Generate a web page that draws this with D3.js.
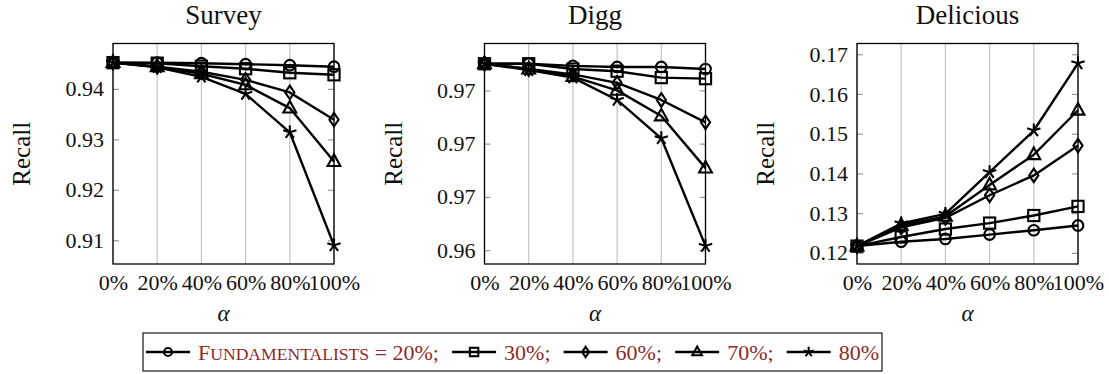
<!DOCTYPE html>
<html>
<head>
<meta charset="utf-8">
<script src="https://cdn.jsdelivr.net/npm/d3@7"></script>
<style>
    body { margin: 0; background: #fff; }
    svg text { font-family: "Liberation Serif", "Times New Roman", "DejaVu Serif", serif; }
</style>
</head>
<body>
<div id="chart-area"></div>
<script>
// x axis (alpha)
var alphaValues = [0, 20, 40, 60, 80, 100];
var alphaLabels = ["0%", "20%", "40%", "60%", "80%", "100%"];

// fundamentalist share for each series
var seriesNames = ["20%", "30%", "60%", "70%", "80%"];

// Survey
var survey20 = [0.9452, 0.9452, 0.9451, 0.9449, 0.9447, 0.9444];
var survey30 = [0.9452, 0.9451, 0.9445, 0.9440, 0.9432, 0.9428];
var survey60 = [0.9452, 0.9444, 0.9434, 0.9418, 0.9393, 0.9339];
var survey70 = [0.9452, 0.9444, 0.9430, 0.9408, 0.9362, 0.9256];
var survey80 = [0.9452, 0.9443, 0.9424, 0.9390, 0.9314, 0.9090];
var surveyTicks = [0.91, 0.92, 0.93, 0.94];
var surveyTickLabels = ["0.91", "0.92", "0.93", "0.94"];
var surveyLimits = [0.9053, 0.9490];

// Digg
var digg20 = [0.9775, 0.9775, 0.9773, 0.9772, 0.9772, 0.9770];
var digg30 = [0.9775, 0.9775, 0.9770, 0.9768, 0.9762, 0.9761];
var digg60 = [0.9775, 0.9770, 0.9765, 0.9757, 0.9741, 0.9720];
var digg70 = [0.9775, 0.9770, 0.9763, 0.9750, 0.9726, 0.9677];
var digg80 = [0.9775, 0.9769, 0.9762, 0.9741, 0.9705, 0.9604];
var diggTicks = [0.960, 0.965, 0.970, 0.975];
var diggTickLabels = ["0.96", "0.97", "0.97", "0.97"];
var diggLimits = [0.9587, 0.9794];

// Delicious
var delicious20 = [0.1217, 0.1228, 0.1235, 0.1246, 0.1257, 0.1269];
var delicious30 = [0.1217, 0.1240, 0.1260, 0.1275, 0.1294, 0.1317];
var delicious60 = [0.1217, 0.1264, 0.1288, 0.1345, 0.1395, 0.1470];
var delicious70 = [0.1217, 0.1269, 0.1292, 0.1371, 0.1447, 0.1559];
var delicious80 = [0.1217, 0.1274, 0.1298, 0.1403, 0.1508, 0.1677];
var deliciousTicks = [0.12, 0.13, 0.14, 0.15, 0.16, 0.17];
var deliciousTickLabels = ["0.12", "0.13", "0.14", "0.15", "0.16", "0.17"];
var deliciousLimits = [0.1172, 0.1727];

var panels = [
    { title: "Survey", left: 113, series: [survey20, survey30, survey60, survey70, survey80],
      ticks: surveyTicks, labels: surveyTickLabels, limits: surveyLimits },
    { title: "Digg", left: 484.5, series: [digg20, digg30, digg60, digg70, digg80],
      ticks: diggTicks, labels: diggTickLabels, limits: diggLimits },
    { title: "Delicious", left: 857, series: [delicious20, delicious30, delicious60, delicious70, delicious80],
      ticks: deliciousTicks, labels: deliciousTickLabels, limits: deliciousLimits }
];

var markerTypes = ["circle", "square", "diamond", "triangle", "star"];

var plotW = 221;
var plotTop = 43.5, plotBottom = 264;
var serif = "Liberation Serif, Times New Roman, DejaVu Serif, serif";

var svg = d3.select("#chart-area")
    .append("svg")
    .attr("width", 1109)
    .attr("height", 374);

function drawMarker(g, type, cx, cy, s) {
    var m = g.append("g")
        .attr("transform", `translate(${cx}, ${cy})`)
        .attr("fill", "none")
        .attr("stroke", "#000")
        .attr("stroke-width", 2.1);
    if (type === "circle") {
        m.append("circle").attr("r", 5.3 * s);
    } else if (type === "square") {
        m.append("rect")
            .attr("x", -5.6 * s).attr("y", -5.6 * s)
            .attr("width", 11.2 * s).attr("height", 11.2 * s);
    } else if (type === "diamond") {
        m.append("path")
            .attr("d", `M0,${-6.8 * s}L${4.6 * s},0L0,${6.8 * s}L${-4.6 * s},0Z`);
    } else if (type === "triangle") {
        m.append("path")
            .attr("d", `M0,${-7.2 * s}L${6.4 * s},${4.4 * s}L${-6.4 * s},${4.4 * s}Z`);
    } else {
        for (var k = 0; k < 5; k++) {
            var a = -Math.PI / 2 + k * 2 * Math.PI / 5;
            m.append("line")
                .attr("x1", 0).attr("y1", 0)
                .attr("x2", 7 * s * Math.cos(a))
                .attr("y2", 7 * s * Math.sin(a));
        }
    }
}

panels.forEach(function (p) {
    var x = d3.scaleLinear().domain([0, 100]).range([p.left, p.left + plotW]);
    var y = d3.scaleLinear().domain(p.limits).range([plotBottom, plotTop]);
    var g = svg.append("g");

    // vertical grid
    g.selectAll(".grid")
        .data(alphaValues)
        .enter()
        .append("line")
        .attr("x1", d => x(d)).attr("x2", d => x(d))
        .attr("y1", plotTop).attr("y2", plotBottom)
        .attr("stroke", "#c4c4c4")
        .attr("stroke-width", 1.2);

    // y axis left, inward ticks
    var yl = g.append("g")
        .attr("transform", `translate(${p.left}, 0)`)
        .call(d3.axisLeft(y)
            .tickValues(p.ticks)
            .tickSize(-6)
            .tickPadding(9)
            .tickFormat((d, i) => p.labels[i]));
    yl.attr("font-family", serif);
    yl.select(".domain").remove();
    yl.selectAll("line").attr("stroke", "#999").attr("stroke-width", 1.2);
    yl.selectAll("text")
        .attr("font-size", "22px")
        .attr("fill", "#111");

    // y axis right, inward ticks
    var yr = g.append("g")
        .attr("transform", `translate(${p.left + plotW}, 0)`)
        .call(d3.axisRight(y).tickValues(p.ticks).tickSize(-6).tickFormat(""));
    yr.select(".domain").remove();
    yr.selectAll("line").attr("stroke", "#999").attr("stroke-width", 1.2);

    // x axis labels
    var xa = g.append("g")
        .attr("transform", `translate(0, ${plotBottom})`)
        .call(d3.axisBottom(x)
            .tickValues(alphaValues)
            .tickSize(0)
            .tickPadding(10)
            .tickFormat((d, i) => alphaLabels[i]));
    xa.attr("font-family", serif);
    xa.select(".domain").remove();
    xa.selectAll("text")
        .attr("font-size", "22px")
        .attr("fill", "#111");

    // frame
    g.append("rect")
        .attr("x", p.left).attr("y", plotTop)
        .attr("width", plotW).attr("height", plotBottom - plotTop)
        .attr("fill", "none")
        .attr("stroke", "#000")
        .attr("stroke-width", 1.3);

    // series
    var line = d3.line()
        .x((d, i) => x(alphaValues[i]))
        .y(d => y(d));

    p.series.forEach(function (s, si) {
        g.append("path")
            .datum(s)
            .attr("d", line)
            .attr("fill", "none")
            .attr("stroke", "#000")
            .attr("stroke-width", 2.4)
            .attr("stroke-linejoin", "round");
        s.forEach(function (v, i) {
            drawMarker(g, markerTypes[si], x(alphaValues[i]), y(v), 1);
        });
    });

    // title
    g.append("text")
        .attr("x", p.left + plotW / 2)
        .attr("y", 24)
        .attr("text-anchor", "middle")
        .attr("font-size", "27px")
        .attr("fill", "#111")
        .text(p.title);

    // y label
    g.append("text")
        .attr("transform", `translate(${p.left - 83}, ${(plotTop + plotBottom) / 2}) rotate(-90)`)
        .attr("text-anchor", "middle")
        .attr("font-size", "25px")
        .attr("fill", "#111")
        .text("Recall");

    // x label
    g.append("text")
        .attr("x", p.left + plotW / 2)
        .attr("y", 321)
        .attr("text-anchor", "middle")
        .attr("font-size", "23px")
        .attr("font-style", "italic")
        .attr("fill", "#111")
        .text("α");
});

// legend
var legX0 = 143, legX1 = 882, legY0 = 333, legY1 = 371;
var legCy = (legY0 + legY1) / 2;
var leg = svg.append("g");
leg.append("rect")
    .attr("x", legX0).attr("y", legY0)
    .attr("width", legX1 - legX0).attr("height", legY1 - legY0)
    .attr("fill", "#fff")
    .attr("stroke", "#000")
    .attr("stroke-width", 1.1);

var sampleLen = 44, sampleGap = 8, pad = 3;
var legendColor = "#8b2b2b";
var items = seriesNames.map(function (name, i) {
    var t = leg.append("text")
        .attr("y", legCy + 8)
        .attr("font-size", "22px")
        .attr("fill", legendColor);
    if (i === 0) {
        // small caps by hand: first letter full size, rest smaller capitals
        t.append("tspan").text("F");
        t.append("tspan").attr("font-size", "17.6px").text("UNDAMENTALISTS");
        t.append("tspan").text(" = " + name + ";");
    } else {
        t.text(name + (i < seriesNames.length - 1 ? ";" : ""));
    }
    return { text: t, w: t.node().getComputedTextLength() };
});
var natural = d3.sum(items, d => sampleLen + sampleGap + d.w);
var between = (legX1 - legX0 - 2 * pad - natural) / (items.length - 1);
var cx = legX0 + pad;
items.forEach(function (it, i) {
    leg.append("line")
        .attr("x1", cx).attr("x2", cx + sampleLen)
        .attr("y1", legCy).attr("y2", legCy)
        .attr("stroke", "#000")
        .attr("stroke-width", 2.4);
    drawMarker(leg, markerTypes[i], cx + sampleLen / 2, legCy, 0.75);
    it.text.attr("x", cx + sampleLen + sampleGap);
    cx += sampleLen + sampleGap + it.w + between;
});
</script>
</body>
</html>
